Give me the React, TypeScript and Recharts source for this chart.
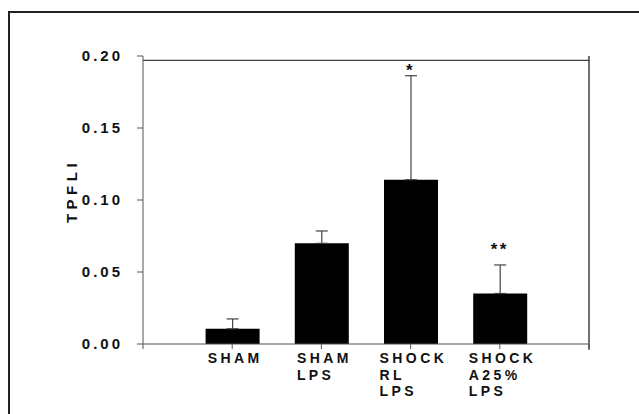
import * as React from "react";
import {
  ComposedChart,
  Bar,
  ErrorBar,
  XAxis,
  YAxis,
  ReferenceLine,
  ReferenceDot,
} from "recharts";

// group labels, one entry per line of text
const groupLabels: string[][] = [
  ["SHAM"],
  ["SHAM", "LPS"],
  ["SHOCK", "RL", "LPS"],
  ["SHOCK", "A25%", "LPS"],
];
const groupPos = [1, 2, 3, 4];
const tpfliMean = [0.0106, 0.0699, 0.1141, 0.0351];
const tpfliErr = [0.0068, 0.0086, 0.0722, 0.0198];
const sigMarks = ["", "", "*", "**"];
const sigY = [0, 0, 0.1905, 0.0662];
const yTicks = [0, 0.05, 0.1, 0.15, 0.2];
const xTicks = [0, 1, 2, 3, 4, 5];

const data = groupPos.map((x, i) => ({
  x,
  mean: tpfliMean[i],
  err: [0, tpfliErr[i]],
}));

const FONT = "'Liberation Sans', Arial, sans-serif";

const YTick = (props: any) => {
  const { x, y, payload } = props;
  return (
    <text
      x={x}
      y={y}
      dy="0.36em"
      textAnchor="end"
      fontFamily={FONT}
      fontWeight="bold"
      fontSize={15}
      letterSpacing={3}
      fill="#111"
    >
      {payload.value.toFixed(2)}
    </text>
  );
};

const XTick = (props: any) => {
  const { x, y, payload } = props;
  const idx = groupPos.indexOf(payload.value);
  if (idx < 0) return <g />;
  const lines = groupLabels[idx];
  // left-aligned block, first line centred on the tick
  const w = lines[0].length * 13 - 3;
  const left = x - w / 2;
  return (
    <text
      x={left}
      y={y}
      fontFamily={FONT}
      fontWeight="bold"
      fontSize={14}
      letterSpacing={3.4}
      fill="#111"
    >
      {lines.map((l, i) => (
        <tspan key={i} x={left} dy={i === 0 ? 10 : 16.5}>
          {l}
        </tspan>
      ))}
    </text>
  );
};

export default function App() {
  return (
    <div
      style={{
        position: "absolute",
        left: 0,
        top: 0,
        width: 639,
        height: 414,
        overflow: "hidden",
        background: "#fff",
      }}
    >
      <div
        style={{
          position: "absolute",
          left: 8,
          top: 11,
          width: 700,
          height: 500,
          borderLeft: "2px solid #222",
          borderTop: "2px solid #222",
        }}
      />
      <div style={{ position: "absolute", left: 0, top: 0 }}>
        <ComposedChart
          width={639}
          height={414}
          data={data}
          margin={{ top: 56, right: 50, bottom: 0, left: 0 }}
        >
          <XAxis
            dataKey="x"
            type="number"
            domain={[0, 5]}
            ticks={xTicks}
            interval={0}
            height={70}
            tickSize={5}
            tickMargin={4}
            stroke="#555"
            tick={<XTick />}
          />
          <YAxis
            type="number"
            domain={[0, 0.2]}
            ticks={yTicks}
            interval={0}
            width={143}
            tickSize={6}
            tickMargin={14}
            stroke="#555"
            tick={<YTick />}
            label={{
              value: "TPFLI",
              angle: -90,
              position: "insideLeft",
              offset: 0,
              content: (p: any) => (
                <text
                  x={72}
                  y={p.viewBox.y + p.viewBox.height / 2 - 9}
                  transform={`rotate(-90, 72, ${p.viewBox.y + p.viewBox.height / 2 - 9})`}
                  textAnchor="middle"
                  dy="0.36em"
                  fontFamily={FONT}
                  fontWeight="bold"
                  fontSize={15}
                  letterSpacing={4.5}
                  fill="#111"
                >
                  TPFLI
                </text>
              ),
            }}
          />
          <ReferenceLine
            segment={[
              { x: 0, y: 0.197 },
              { x: 5, y: 0.197 },
            ]}
            stroke="#444"
            strokeWidth={1.2}
            ifOverflow="visible"
          />
          <ReferenceLine
            segment={[
              { x: 5, y: -0.004 },
              { x: 5, y: 0.2 },
            ]}
            stroke="#111"
            strokeWidth={1.2}
            ifOverflow="visible"
          />
          <Bar dataKey="mean" fill="#000" barSize={54} isAnimationActive={false}>
            <ErrorBar
              dataKey="err"
              width={6}
              stroke="#444"
              strokeWidth={1.2}
              direction="y"
            />
          </Bar>
          {groupPos.map((x, i) =>
            sigMarks[i] ? (
              <ReferenceDot
                key={x}
                x={x}
                y={sigY[i]}
                r={0}
                ifOverflow="visible"
                label={{
                  value: sigMarks[i],
                  position: "center",
                  fontFamily: FONT,
                  fontWeight: "bold",
                  fontSize: 17,
                  letterSpacing: 2.5,
                  fill: "#111",
                }}
              />
            ) : null
          )}
        </ComposedChart>
      </div>
    </div>
  );
}
